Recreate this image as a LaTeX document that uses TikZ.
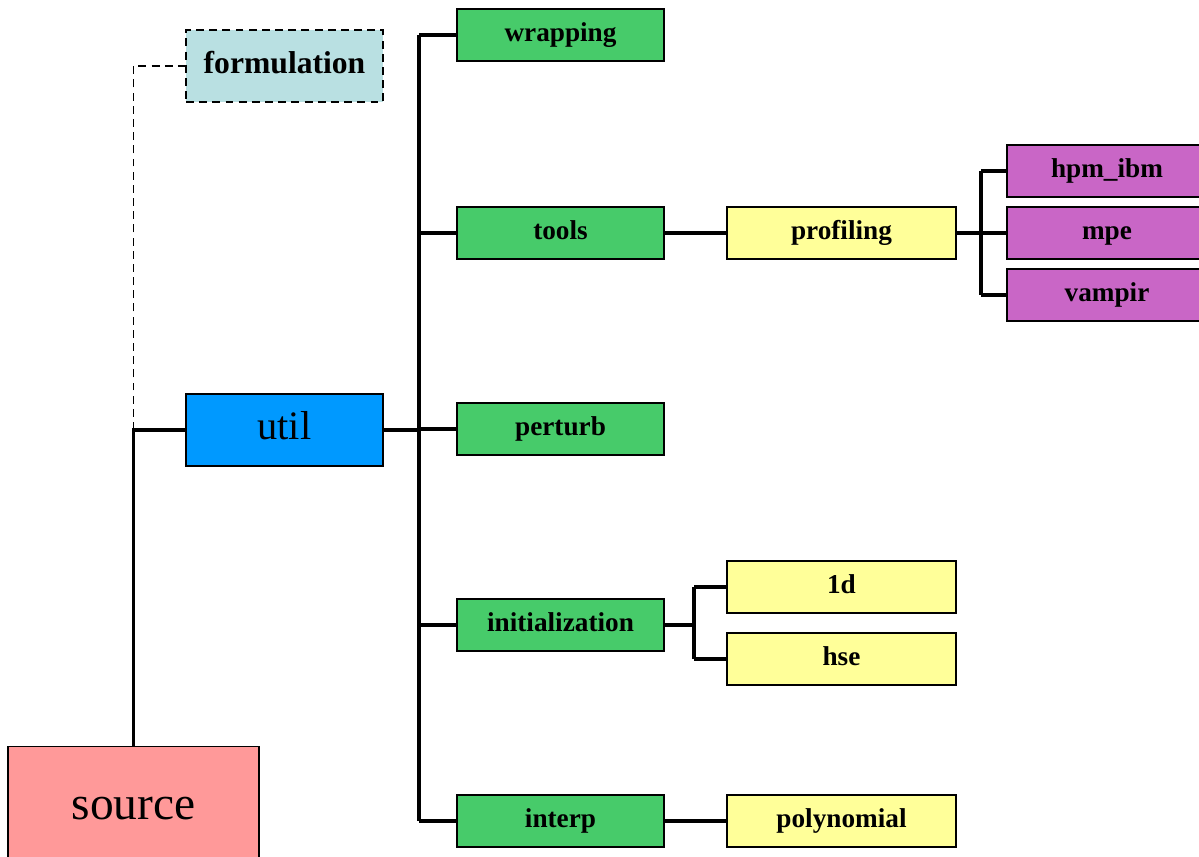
\documentclass[tikz,border=0pt]{standalone}
\usepackage{fontspec}
\setmainfont{Liberation Serif}
\definecolor{srcpink}{HTML}{FF9999}
\definecolor{formteal}{HTML}{B9E0E2}
\definecolor{utilblue}{HTML}{0099FF}
\definecolor{modgreen}{HTML}{47CB6A}
\definecolor{subyellow}{HTML}{FFFF99}
\definecolor{leafpurple}{HTML}{C966C6}
\begin{document}
\begin{tikzpicture}[
	x=0.02cm, y=-0.02cm,
	topbox/.style={shape=rectangle, draw=black, line width=1.1pt, minimum width=3.94cm, minimum height=1.44cm, inner sep=0pt},
	greenbox/.style={shape=rectangle, fill=modgreen, draw=black, line width=1.1pt, minimum width=4.14cm, minimum height=1.04cm, inner sep=0pt, text height=11pt, text depth=3.4pt, font=\fontsize{15.5}{18}\selectfont\bfseries},
	yellowbox/.style={shape=rectangle, fill=subyellow, draw=black, line width=1.1pt, minimum width=4.58cm, minimum height=1.04cm, inner sep=0pt, text height=11pt, text depth=3.4pt, font=\fontsize{15.5}{18}\selectfont\bfseries},
	purplebox/.style={shape=rectangle, fill=leafpurple, draw=black, line width=1.1pt, minimum width=4cm, minimum height=1.04cm, inner sep=0pt, text height=11pt, text depth=3.4pt, font=\fontsize{15.5}{18}\selectfont\bfseries},
	conn/.style={draw=black, line width=2pt},
	dashconn/.style={draw=black, line width=1.1pt, dash pattern=on 4.5pt off 3pt},
]
\useasboundingbox[fill=white] (0,0) rectangle (1199,857);

% top level
\node[topbox, fill=srcpink, minimum width=5.02cm, minimum height=2.46cm, text height=19pt, text depth=6pt, font=\fontsize{27}{30}\selectfont] (source) at (133.5,808) {source};
\node[topbox, fill=formteal, dash pattern=on 4.5pt off 3pt, text height=12.6pt, text depth=4pt, font=\fontsize{18}{21}\selectfont\bfseries] (formulation) at (284.5,66) {formulation};
\node[topbox, fill=utilblue, text height=16pt, text depth=5pt, font=\fontsize{23}{26}\selectfont] (util) at (284.5,430) {util};

% util modules
\node[greenbox] (wrapping) at (560.5,35) {wrapping};
\node[greenbox] (tools) at (560.5,233) {tools};
\node[greenbox] (perturb) at (560.5,429) {perturb};
\node[greenbox] (initialization) at (560.5,625) {initialization};
\node[greenbox] (interp) at (560.5,821) {interp};

% sub modules
\node[yellowbox] (profiling) at (841.5,233) {profiling};
\node[yellowbox] (oned) at (841.5,587) {1d};
\node[yellowbox] (hse) at (841.5,659) {hse};
\node[yellowbox] (polynomial) at (841.5,821) {polynomial};

\node[purplebox] (hpm) at (1107,171) {hpm\_ibm};
\node[purplebox] (mpe) at (1107,233) {mpe};
\node[purplebox] (vampir) at (1107,295) {vampir};

% connectors
\draw[conn] (source.north) |- (util.west);
\draw[dashconn] (util.west -| source.north) |- (formulation.west);

\coordinate (utilbus) at (419,430);
\draw[conn] (util.east) -- (utilbus);
\draw[conn] (wrapping.west -| utilbus) -- (interp.west -| utilbus);
\foreach \m in {wrapping,tools,perturb,initialization,interp}
	\draw[conn] (\m.west -| utilbus) -- (\m.west);

\draw[conn] (tools.east) -- (profiling.west);
\coordinate (profbus) at (981,233);
\draw[conn] (profiling.east) -- (profbus);
\draw[conn] (hpm.west -| profbus) -- (vampir.west -| profbus);
\foreach \m in {hpm,mpe,vampir}
	\draw[conn] (\m.west -| profbus) -- (\m.west);

\coordinate (initbus) at (694,625);
\draw[conn] (initialization.east) -- (initbus);
\draw[conn] (oned.west -| initbus) -- (hse.west -| initbus);
\foreach \m in {oned,hse}
	\draw[conn] (\m.west -| initbus) -- (\m.west);

\draw[conn] (interp.east) -- (polynomial.west);
\end{tikzpicture}
\end{document}
